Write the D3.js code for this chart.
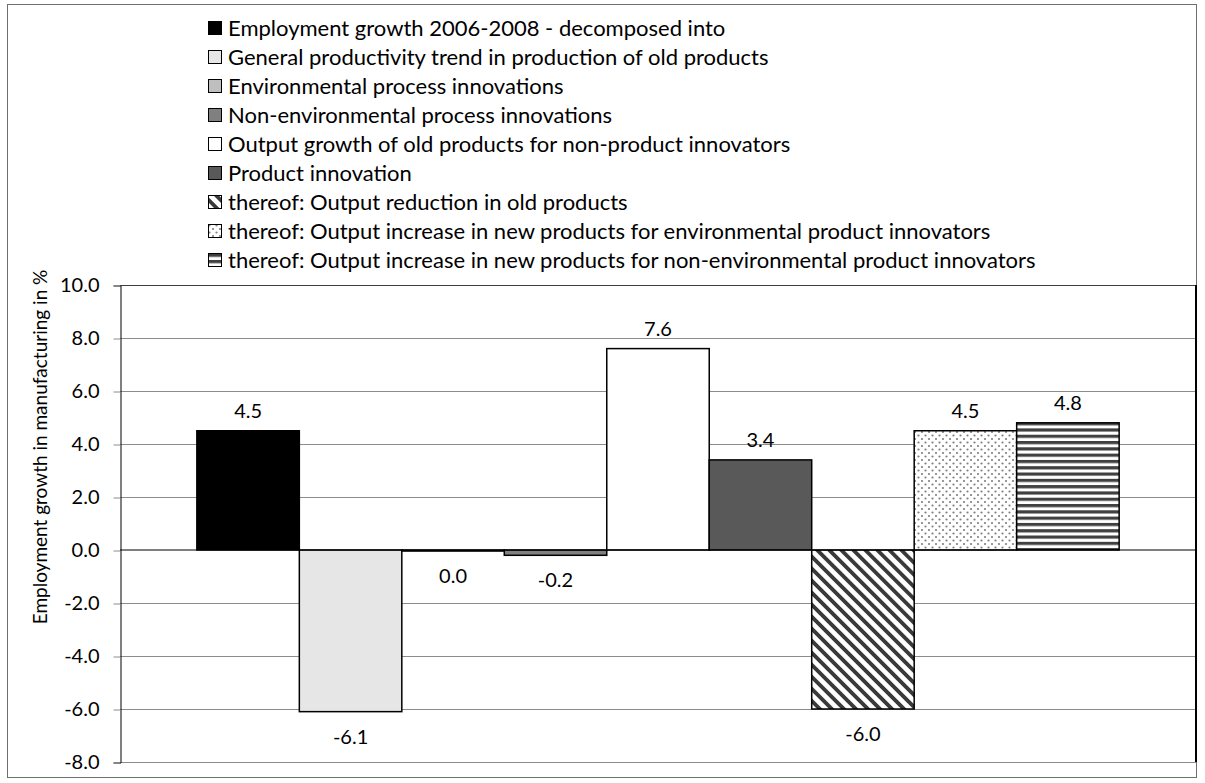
<!DOCTYPE html>
<html>
<head>
<meta charset="utf-8">
<script src="https://cdn.jsdelivr.net/npm/d3@7"></script>
<style>
	body { margin: 0; background: #fff; }
	svg { display: block; font-family: Lato, "Open Sans", sans-serif; }
</style>
</head>
<body>
<svg></svg>
<script>
const width = 1205;
const height = 783;

const series = [
	'Employment growth 2006-2008 - decomposed into',
	'General productivity trend in production of old products',
	'Environmental process innovations',
	'Non-environmental process innovations',
	'Output growth of old products for non-product innovators',
	'Product innovation',
	'thereof: Output reduction in old products',
	'thereof: Output increase in new products for environmental product innovators',
	'thereof: Output increase in new products for non-environmental product innovators'
];
const values = [4.5, -6.1, -0.04, -0.2, 7.6, 3.4, -6.0, 4.5, 4.8];
const fills = ['#000000', '#e6e6e6', '#bfbfbf', '#808080', '#ffffff', '#595959', 'url(#diag)', 'url(#dots)', 'url(#hstripe)'];
const yTicks = [-8, -6, -4, -2, 0, 2, 4, 6, 8, 10];
const yTitle = 'Employment growth in manufacturing in %';

const plot = {left: 120, right: 1196, top: 285, bottom: 762};

var svg = d3.select('svg').attr('width', width).attr('height', height);

// patterns
var defs = svg.append('defs');
var diag = defs.append('pattern').attr('id', 'diag')
	.attr('patternUnits', 'userSpaceOnUse').attr('width', 8.5).attr('height', 8.5)
	.attr('patternTransform', 'rotate(-45)');
diag.append('rect').attr('width', 8.5).attr('height', 8.5).attr('fill', '#fff');
diag.append('rect').attr('width', 3.8).attr('height', 8.5).attr('fill', '#3a3a3a');

var dots = defs.append('pattern').attr('id', 'dots')
	.attr('patternUnits', 'userSpaceOnUse').attr('width', 7).attr('height', 7);
dots.append('rect').attr('width', 7).attr('height', 7).attr('fill', '#fff');
dots.append('circle').attr('cx', 1.5).attr('cy', 1.5).attr('r', 1.1).attr('fill', '#808080');
dots.append('circle').attr('cx', 5).attr('cy', 5).attr('r', 1.1).attr('fill', '#808080');

var hs = defs.append('pattern').attr('id', 'hstripe')
	.attr('patternUnits', 'userSpaceOnUse').attr('width', 6).attr('height', 6.3);
hs.append('rect').attr('width', 6).attr('height', 6.3).attr('fill', '#fff');
hs.append('rect').attr('width', 6).attr('height', 3.2).attr('fill', '#404040');

// outer frame
svg.append('rect')
	.attr('x', 7.5).attr('y', 4.5).attr('width', 1189).attr('height', 773)
	.attr('fill', 'none').attr('stroke', '#6e6e6e');

var y = d3.scaleLinear().domain([-8, 10]).range([plot.bottom, plot.top]);
var x = d3.scaleBand().domain(series).range([plot.left, plot.right])
	.paddingInner(0).paddingOuter(0.75);

// gridlines
svg.append('g').selectAll('line').data(yTicks.filter(d => d !== 0)).enter().append('line')
	.attr('x1', plot.left).attr('x2', plot.right)
	.attr('y1', d => Math.round(y(d)) + 0.5).attr('y2', d => Math.round(y(d)) + 0.5)
	.attr('stroke', d => d === 10 ? '#404040' : '#8c8c8c');

// right edge of plot area
svg.append('line')
	.attr('x1', plot.right).attr('x2', plot.right)
	.attr('y1', plot.top).attr('y2', plot.bottom)
	.attr('stroke', '#000').attr('stroke-width', 2);

// y axis
var yAxis = svg.append('g')
	.attr('transform', `translate(${plot.left + 0.5},0.5)`)
	.call(d3.axisLeft(y).tickValues(yTicks).tickSize(7).tickPadding(14).tickFormat(d => d.toFixed(1)));
yAxis.select('.domain').attr('stroke', '#000');
yAxis.selectAll('.tick line').attr('stroke', '#8c8c8c');
yAxis.selectAll('text').attr('font-size', 20).attr('fill', '#000').attr('font-family', 'Lato');

svg.append('text')
	.attr('transform', 'translate(40,447) rotate(-90)')
	.attr('text-anchor', 'middle').attr('dy', '0.35em')
	.attr('font-size', 19).text(yTitle);

// bars
svg.append('g').selectAll('rect').data(values).enter().append('rect')
	.attr('x', (d, i) => x(series[i]))
	.attr('width', x.bandwidth())
	.attr('y', d => y(Math.max(0, d)))
	.attr('height', d => Math.abs(y(d) - y(0)))
	.attr('fill', (d, i) => fills[i])
	.attr('stroke', '#000').attr('stroke-width', 1.5);

// zero line
svg.append('line')
	.attr('x1', plot.left).attr('x2', plot.right)
	.attr('y1', y(0)).attr('y2', y(0))
	.attr('stroke', '#000');

// value labels
svg.append('g').selectAll('text').data(values).enter().append('text')
	.attr('x', (d, i) => x(series[i]) + x.bandwidth() / 2)
	.attr('y', d => d > 0 ? y(d) - 13 : y(d) + 32)
	.attr('text-anchor', 'middle').attr('font-size', 20)
	.text(d => d.toFixed(1).replace('-0.0', '0.0'));

// legend
var legend = svg.append('g').selectAll('g').data(series).enter().append('g')
	.attr('transform', (d, i) => `translate(208,${28 + i * 29})`);
legend.append('rect')
	.attr('x', 0.5).attr('y', -6.5).attr('width', 13).attr('height', 13)
	.attr('fill', (d, i) => fills[i])
	.attr('stroke', '#000').attr('stroke-width', 1);
legend.append('text')
	.attr('x', 20).attr('dy', '0.35em').attr('font-size', 22)
	.text(d => d);
</script>
</body>
</html>
